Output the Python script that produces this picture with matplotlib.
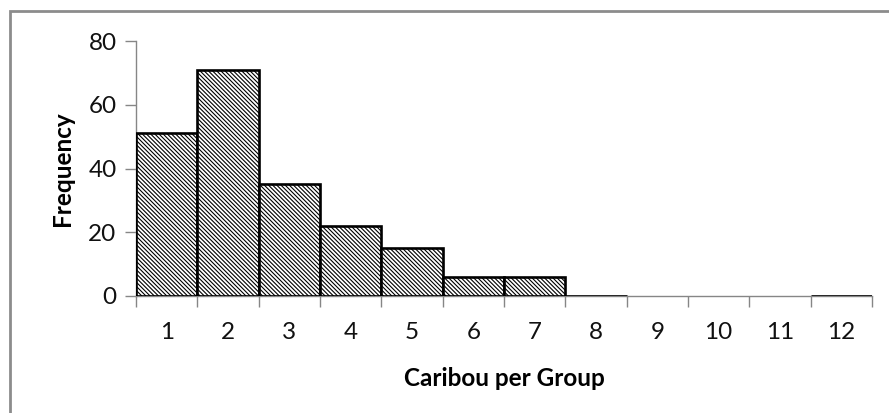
#! /usr/bin/env python3

import matplotlib
matplotlib.use('Agg')
import matplotlib.pyplot as plt
from matplotlib.patches import Rectangle

# group sizes and how often each was seen
group_size = [1, 2, 3, 4, 5, 6, 7, 8, 9, 10, 11, 12]
frequency = [51, 71, 35, 22, 15, 6, 6, 0, 0, 0, 0, 0]
# zero bins that still show an outline in the original
drawn = [True, True, True, True, True, True, True, True, False, False, False, True]
y_ticks = [0, 20, 40, 60, 80]

plt.rcParams['font.family'] = ['Lato', 'DejaVu Sans']
plt.rcParams['hatch.linewidth'] = 0.8

W, H = 889, 413
fig = plt.figure(figsize=(W / 100, H / 100), dpi=100)

# chart area border (only left and top are inside the picture)
fig.patches.append(Rectangle((10 / W, -0.1), 1.2, 1 - 11 / H + 0.1,
                             transform=fig.transFigure, fill=False,
                             edgecolor='#8c8c8c', linewidth=2))

ax = fig.add_axes([136 / W, 1 - 296 / H, (872 - 136) / W, (296 - 41) / H])

xs = [g for g, d in zip(group_size, drawn) if d]
hs = [f for f, d in zip(frequency, drawn) if d]
ax.bar(xs, hs, width=1.0, color='white', edgecolor='black',
       linewidth=1.9, hatch='\\' * 8, zorder=3)

ax.set_xlim(0.5, 12.5)
ax.set_ylim(0, 80)
ax.set_yticks(y_ticks)
ax.set_xticks(group_size)
ax.set_xticks([g + 0.5 for g in range(0, 13)], minor=True)

for side in ['top', 'right']:
    ax.spines[side].set_visible(False)
for side in ['left', 'bottom']:
    ax.spines[side].set_color('#868686')
    ax.spines[side].set_linewidth(1)

ax.tick_params(axis='x', which='major', length=0, pad=19, labelsize=17.5,
               labelcolor='#111111')
ax.tick_params(axis='x', which='minor', length=8, color='#868686', width=1)
ax.tick_params(axis='y', length=8, color='#868686', width=1, pad=6,
               labelsize=17.5, labelcolor='#111111')

ax.set_xlabel('Caribou per Group', fontsize=17.5, fontweight='bold', labelpad=17)
ax.set_ylabel('Frequency', fontsize=17.5, fontweight='bold', labelpad=10)

fig.savefig('out.png', dpi=100)
